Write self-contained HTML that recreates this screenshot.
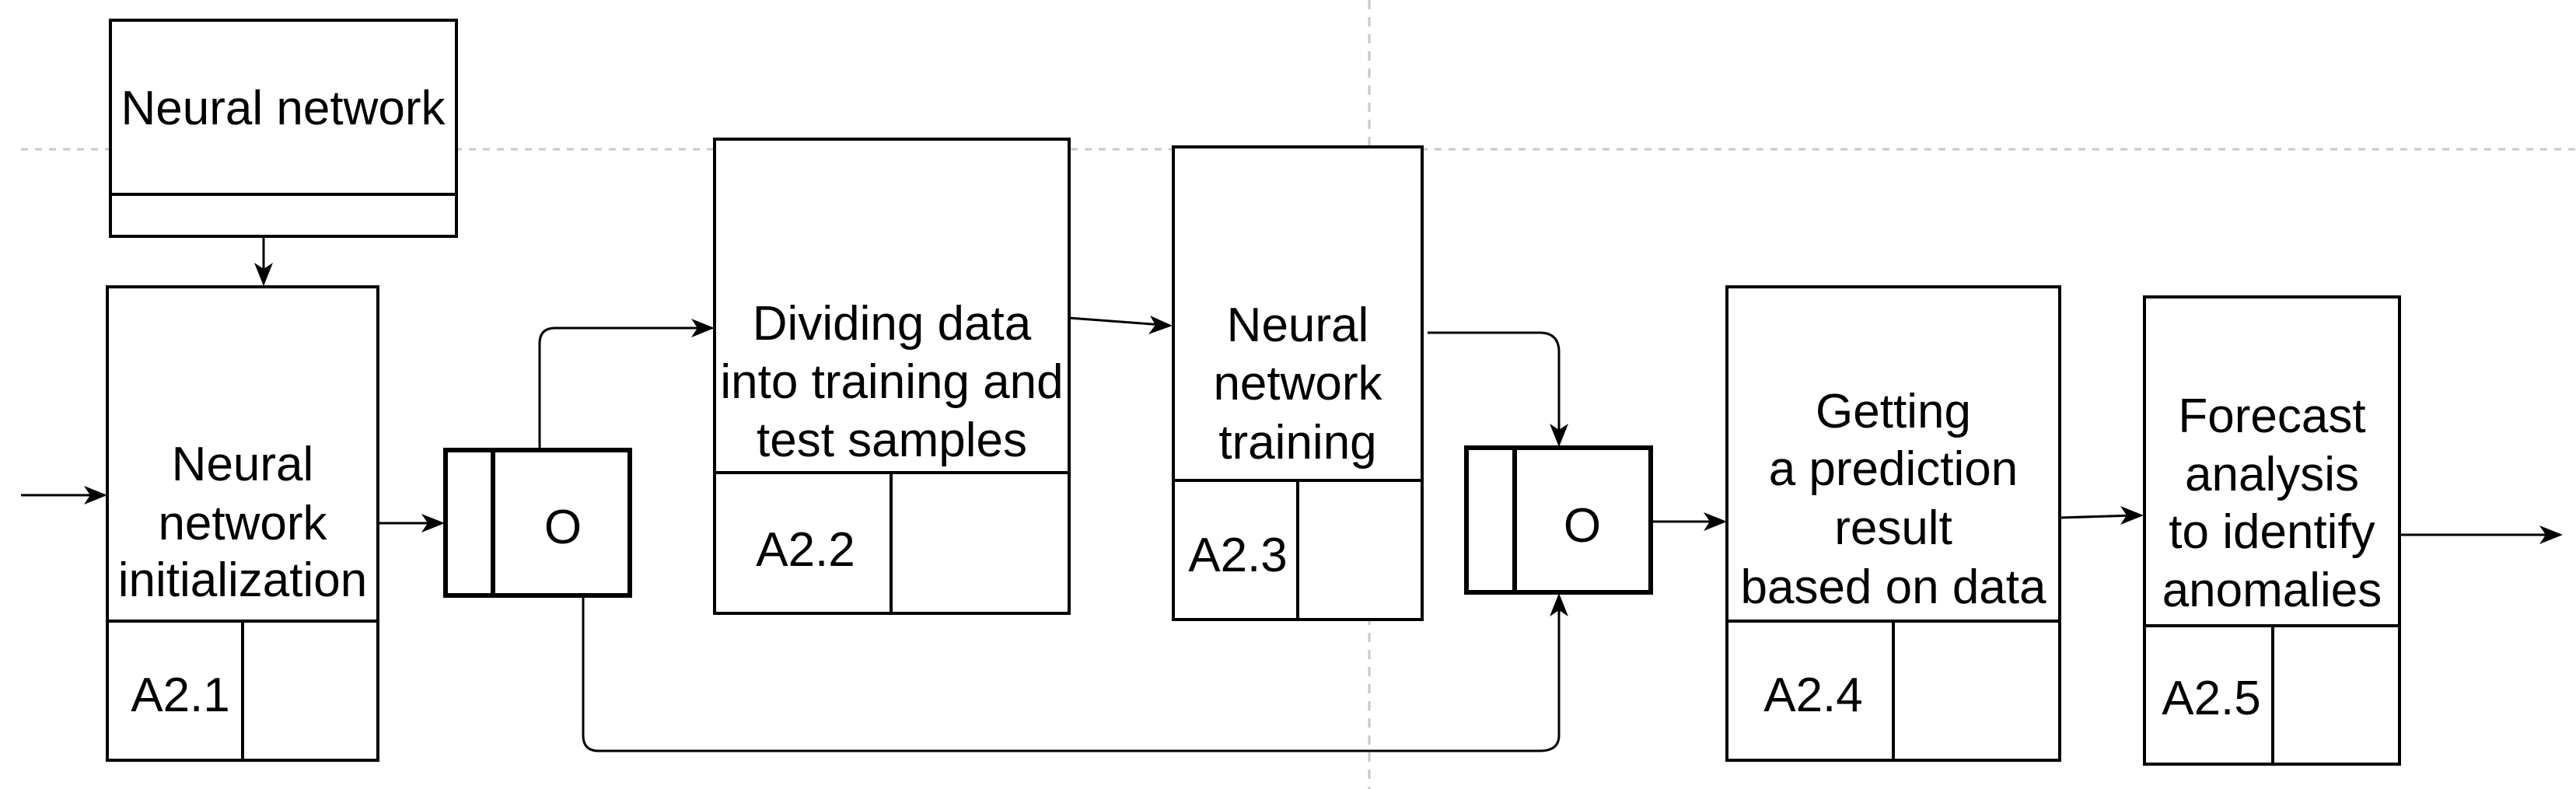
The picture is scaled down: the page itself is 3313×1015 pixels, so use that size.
<!DOCTYPE html>
<html><head><meta charset="utf-8"><style>
html,body{margin:0;padding:0;background:#fff;}
svg{display:block;}
text{font-family:"Liberation Sans",Arial,sans-serif;font-size:62px;fill:#000;text-anchor:middle;}
</style></head><body>
<svg width="3313" height="1015" viewBox="0 0 3313 1015" xmlns="http://www.w3.org/2000/svg">
<!-- dashed guides -->
<line x1="27" y1="192" x2="3313" y2="192" stroke="#c8c8c8" stroke-width="3" stroke-dasharray="9 9"/>
<line x1="1761" y1="0" x2="1761" y2="1015" stroke="#c8c8c8" stroke-width="3" stroke-dasharray="12 10"/>

<g fill="#fff" stroke="#000" stroke-width="4">
<rect x="142" y="26" width="445" height="278"/>
<line x1="142" y1="250" x2="587" y2="250"/>
<rect x="138" y="369" width="348" height="609"/>
<line x1="138" y1="799" x2="486" y2="799"/>
<line x1="312" y1="799" x2="312" y2="978"/>
<rect x="573" y="579" width="237" height="187" stroke-width="6"/>
<line x1="634" y1="579" x2="634" y2="766" stroke-width="6"/>
<rect x="919" y="179" width="456" height="610"/>
<line x1="919" y1="608" x2="1375" y2="608"/>
<line x1="1146" y1="608" x2="1146" y2="789"/>
<rect x="1509" y="189" width="320" height="608"/>
<line x1="1509" y1="618" x2="1829" y2="618"/>
<line x1="1669" y1="618" x2="1669" y2="797"/>
<rect x="1886" y="576" width="237" height="186" stroke-width="6"/>
<line x1="1948" y1="576" x2="1948" y2="762" stroke-width="6"/>
<rect x="2221" y="369" width="428" height="609"/>
<line x1="2221" y1="799" x2="2649" y2="799"/>
<line x1="2435" y1="799" x2="2435" y2="978"/>
<rect x="2758" y="382" width="328" height="601"/>
<line x1="2758" y1="805" x2="3086" y2="805"/>
<line x1="2923" y1="805" x2="2923" y2="983"/>
</g>

<g fill="none" stroke="#000" stroke-width="3">
<line x1="339" y1="304" x2="339" y2="355"/>
<line x1="27" y1="637" x2="125" y2="637"/>
<line x1="486" y1="673" x2="560" y2="673"/>
<path d="M694 579 V442 Q694 422 714 422 H906"/>
<path d="M750 766 V946 Q750 966 770 966 H1980 Q2005 966 2005 946 V776"/>
<line x1="1375" y1="409" x2="1495" y2="418"/>
<path d="M1836 428 H1980 Q2005 428 2005 453 V562"/>
<line x1="2123" y1="671" x2="2208" y2="671"/>
<line x1="2649" y1="666" x2="2745" y2="663"/>
<line x1="3086" y1="688" x2="3282" y2="688"/>
</g>
<g fill="#000">
<polygon points="339,368 327,338 339,346 351,338"/>
<polygon points="138,637 108,625 116,637 108,649"/>
<polygon points="572,673 542,661 550,673 542,685"/>
<polygon points="919,422 889,410 897,422 889,434"/>
<polygon points="1508,419 1479,406 1486,418 1477,430"/>
<polygon points="2005,575 1993,545 2005,553 2017,545"/>
<polygon points="2005,763 1993,793 2005,785 2017,793"/>
<polygon points="2221,671 2191,659 2199,671 2191,683"/>
<polygon points="2757,663 2727,651 2735,663 2727,675"/>
<polygon points="3296,688 3266,676 3274,688 3266,700"/>
</g>

<text x="364" y="160">Neural network</text>
<text x="312" y="618">Neural</text>
<text x="312" y="694">network</text>
<text x="312" y="767">initialization</text>
<text x="232" y="915">A2.1</text>
<text x="724" y="699">O</text>
<text x="1147" y="437">Dividing data</text>
<text x="1147" y="512">into training and</text>
<text x="1147" y="587">test samples</text>
<text x="1036" y="728">A2.2</text>
<text x="1669" y="439">Neural</text>
<text x="1669" y="514">network</text>
<text x="1669" y="590">training</text>
<text x="1592" y="735">A2.3</text>
<text x="2035" y="697">O</text>
<text x="2435" y="550">Getting</text>
<text x="2435" y="624">a prediction</text>
<text x="2435" y="700">result</text>
<text x="2435" y="776">based on data</text>
<text x="2332" y="915">A2.4</text>
<text x="2922" y="556">Forecast</text>
<text x="2922" y="631">analysis</text>
<text x="2922" y="705">to identify</text>
<text x="2922" y="780">anomalies</text>
<text x="2844" y="919">A2.5</text>
</svg>
</body></html>
